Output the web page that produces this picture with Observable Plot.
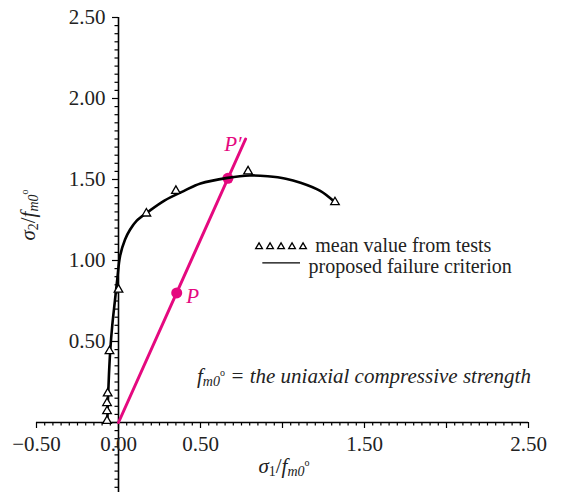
<!DOCTYPE html>
<html><head><meta charset="utf-8">
<script src="https://cdn.jsdelivr.net/npm/d3@7"></script>
<script src="https://cdn.jsdelivr.net/npm/@observablehq/plot@0.6"></script>
<style>body{margin:0;background:#fff}</style>
</head><body><div id="chart"></div>
<script>
// proposed failure criterion (black curve)
const curveX = [-0.068, -0.064, -0.058, -0.05, -0.038, -0.022, -0.008, 0.01, 0.04, 0.07, 0.11, 0.18, 0.28, 0.40, 0.50, 0.665, 0.80, 0.91, 1.02, 1.11, 1.23, 1.32];
const curveY = [0.0, 0.15, 0.30, 0.45, 0.60, 0.75, 0.88, 1.03, 1.13, 1.19, 1.245, 1.30, 1.37, 1.43, 1.475, 1.51, 1.525, 1.52, 1.505, 1.48, 1.43, 1.36];
// mean value from tests (triangles)
const testX = [-0.07, -0.07, -0.07, -0.066, -0.055, 0.0, 0.17, 0.35, 0.79, 1.32];
const testY = [0.01, 0.07, 0.12, 0.18, 0.44, 0.82, 1.29, 1.43, 1.55, 1.36];
// loading path (magenta)
const pathX = [0, 0.775];
const pathY = [0, 1.75];
const pointNames = ["P", "P\u2032"];
const pointX = [0.355, 0.667];
const pointY = [0.80, 1.507];
// axes
const xTickValues = [-0.5, 0, 0.5, 1.5, 2.5];
const xTickLabels = ["\u22120.50", "0.00", "0.50", "1.50", "2.50"];
const yTickValues = [0.5, 1.0, 1.5, 2.0, 2.5];
const yTickLabels = ["0.50", "1.00", "1.50", "2.00", "2.50"];
const legendLabels = ["mean value from tests", "proposed failure criterion"];

const curve = curveX.map((x, i) => ({x, y: curveY[i]}));
const tests = testX.map((x, i) => ({x, y: testY[i]}));
const path = pathX.map((x, i) => ({x, y: pathY[i]}));
const pts = pointX.map((x, i) => ({x, y: pointY[i], name: pointNames[i]}));
const xMinor = d3.range(-10, 51).map(k => k * 0.05);
const yMinor = d3.range(-8, 51).map(k => k * 0.05);
const isMajor = v => Math.abs(v * 2 - Math.round(v * 2)) < 1e-6;

const MAG = "#e5097f";
const W = 569, H = 492;
const ml = 36, mr = 41, mt = 17, mb = 70;
const ys = (H - mb - mt) / 2.5; // px per unit y
const xs = (W - ml - mr) / 3;   // px per unit x
const dx = px => px / xs, dy = px => px / ys;

const legendTri = d3.range(5).map(k => ({x: 0.857 + k * dx(11), y: 1.085}));

const plot = Plot.plot({
  width: W, height: H,
  marginLeft: ml, marginRight: mr, marginTop: mt, marginBottom: mb,
  x: {domain: [-0.5, 2.5], axis: null},
  y: {domain: [0, 2.5], axis: null},
  style: {fontFamily: "'Liberation Serif', 'Times New Roman', serif", fontSize: "21px", background: "white", color: "black", overflow: "visible"},
  marks: [
    // axis lines
    Plot.ruleY([0], {x1: -0.5, x2: 2.5, stroke: "black", strokeWidth: 1.6}),
    Plot.ruleX([0], {y1: -0.45, y2: 2.5, stroke: "black", strokeWidth: 1.6}),
    // x ticks (downward)
    Plot.ruleX(xMinor, {x: d => d, y1: 0, y2: d => -dy(isMajor(d) ? 6 : 3.5), stroke: "black", strokeWidth: 1.2}),
    // y ticks (leftward)
    Plot.ruleY(yMinor, {y: d => d, x1: d => -dx(isMajor(d) ? 6 : 3.5), x2: 0, stroke: "black", strokeWidth: 1.2}),
    // tick labels
    Plot.text(xTickValues, {x: d => d, y: 0, text: (d, i) => xTickLabels[i], dy: 22, fill: "#222"}),
    Plot.text(yTickValues, {x: 0, y: d => d, text: (d, i) => yTickLabels[i], textAnchor: "end", dx: -13, fill: "#222"}),
    // loading path
    Plot.line(path, {x: "x", y: "y", stroke: MAG, strokeWidth: 3}),
    Plot.dot(pts, {x: "x", y: "y", r: 5.5, fill: MAG}),
    Plot.text(pts, {x: "x", y: "y", text: "name", fill: MAG, fontStyle: "italic"}),
    // failure curve
    Plot.line(curve, {x: "x", y: "y", curve: "catmull-rom", stroke: "black", strokeWidth: 2.6}),
    Plot.dot(tests, {x: "x", y: "y", symbol: "triangle", r: 3.2, stroke: "black", strokeWidth: 1.3, fill: "white"}),
    // legend
    Plot.dot(legendTri, {x: "x", y: "y", symbol: "triangle", r: 2.5, stroke: "black", strokeWidth: 1.3, fill: "white"}),
    Plot.ruleY([0.985], {x1: 0.88, x2: 1.11, stroke: "black", strokeWidth: 1.3}),
    Plot.text([legendLabels[0]], {x: 1.20, y: 1.09, text: d => d, textAnchor: "start", fill: "#222", fontSize: 20}),
    Plot.text([legendLabels[1]], {x: 1.159, y: 0.965, text: d => d, textAnchor: "start", fill: "#222", fontSize: 20})
  ]
});

// offset P labels from their points
const svg = d3.select(plot);
const X = plot.scale("x").apply, Y = plot.scale("y").apply;
svg.selectAll("text").filter(function() { return this.textContent === "P" || this.textContent === "P\u2032"; })
  .each(function() {
    const t = d3.select(this);
    if (this.textContent === "P") t.attr("transform", `translate(${X(pointX[0]) + 16},${Y(pointY[0]) + 3})`);
    else t.attr("transform", `translate(${X(pointX[1]) + 5},${Y(pointY[1]) - 34})`);
  });

function subText(g, x, y, parts, opts = {}) {
  const t = g.append("text").attr("x", x).attr("y", y)
    .attr("font-family", "'Liberation Serif', 'Times New Roman', serif").attr("font-size", 21).attr("fill", "#222")
    .attr("text-anchor", opts.anchor || "middle").attr("dominant-baseline", "middle");
  if (opts.rotate) t.attr("transform", `rotate(-90,${x},${y})`);
  for (const p of parts) {
    const s = t.append("tspan").text(p.t);
    if (p.italic) s.attr("font-style", "italic");
    if (p.size) s.attr("font-size", p.size);
    if (p.shift) s.attr("dy", p.shift);
  }
  return t;
}
const g = svg.append("g");
// x axis title
subText(g, 284, 468, [
  {t: "σ", italic: true}, {t: "1", size: 14, shift: 5}, {t: "/", shift: -5}, {t: "f", italic: true},
  {t: "m0", italic: true, size: 14, shift: 5}, {t: "o", size: 10, shift: -9}
]);
// y axis title
subText(g, 30, 215, [
  {t: "σ", italic: true}, {t: "2", size: 14, shift: 5}, {t: "/", shift: -5}, {t: "f", italic: true},
  {t: "m0", italic: true, size: 14, shift: 5}, {t: "o", size: 10, shift: -9}
], {rotate: true});
// annotation
subText(g, 197, 378, [
  {t: "f", italic: true}, {t: "m0", italic: true, size: 14, shift: 5}, {t: "o", size: 10, shift: -9},
  {t: " = the uniaxial compressive strength", italic: true, shift: 4}
], {anchor: "start"});

document.getElementById("chart").appendChild(plot);
</script>
</body></html>
